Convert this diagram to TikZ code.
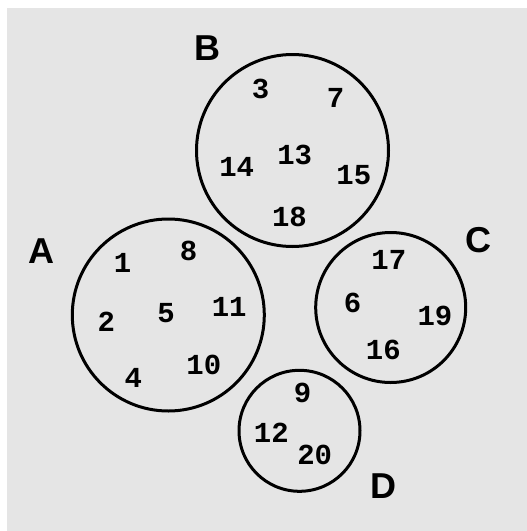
\documentclass[tikz,border=0pt]{standalone}
\usepackage{fontspec}
\setmainfont{Liberation Sans}
\newfontfamily\digitfont{Liberation Mono}
\usepackage{xcolor}
\usetikzlibrary{positioning}
\definecolor{panelgray}{RGB}{229,229,229}

\begin{document}
\begin{tikzpicture}[
  x=1pt, y=-1pt,
  % --- node styles ---
  setcircle/.style={
    draw=black, line width=3pt, circle, inner sep=0pt
  },
  setlabel/.style={
    font=\fontsize{36}{36}\selectfont\bfseries, inner sep=0pt
  },
  elem/.style={
    font=\digitfont\fontsize{29}{29}\selectfont\bfseries, inner sep=0pt
  },
]
\useasboundingbox (0,0) rectangle (527,531);
\fill[panelgray] (7,8) rectangle (527,531);

% Sets
\node[setcircle, minimum size=192pt] (setB) at (292.5,150.5) {};
\node[setcircle, minimum size=192pt] (setA) at (168.3,315) {};
\node[setcircle, minimum size=150pt] (setC) at (390.7,307.5) {};
\node[setcircle, minimum size=121pt] (setD) at (299.5,430.8) {};

% Set names
\node[setlabel] (nameB) at (207,48) {B};
\node[setlabel] (nameA) at (41,251.5) {A};
\node[setlabel] (nameC) at (478,240) {C};
\node[setlabel] (nameD) at (383.5,486.5) {D};

% Elements of B
\node[elem] (e3)  at (260.5,88.7)  {3};
\node[elem] (e7)  at (335.5,98.3)  {7};
\node[elem] (e13) at (294.7,155)   {13};
\node[elem] (e14) at (236.7,166.7) {14};
\node[elem] (e15) at (353.8,175.3) {15};
\node[elem] (e18) at (289.5,216.7) {18};

% Elements of A
\node[elem] (e1)  at (122.5,263.3) {1};
\node[elem] (e8)  at (188.5,251.2) {8};
\node[elem] (e2)  at (106.3,321.7) {2};
\node[elem] (e5)  at (166.2,313.3) {5};
\node[elem] (e11) at (229.2,306.7) {11};
\node[elem] (e10) at (203.8,365)   {10};
\node[elem] (e4)  at (133.3,378.3) {4};

% Elements of C
\node[elem] (e17) at (388.8,260.3) {17};
\node[elem] (e6)  at (352.5,302.7) {6};
\node[elem] (e19) at (435,316.3)   {19};
\node[elem] (e16) at (383.3,350.3) {16};

% Elements of D
\node[elem] (e9)  at (302.5,393)   {9};
\node[elem] (e12) at (271.3,432.7) {12};
\node[elem] (e20) at (314.7,454.7) {20};

\end{tikzpicture}
\end{document}
